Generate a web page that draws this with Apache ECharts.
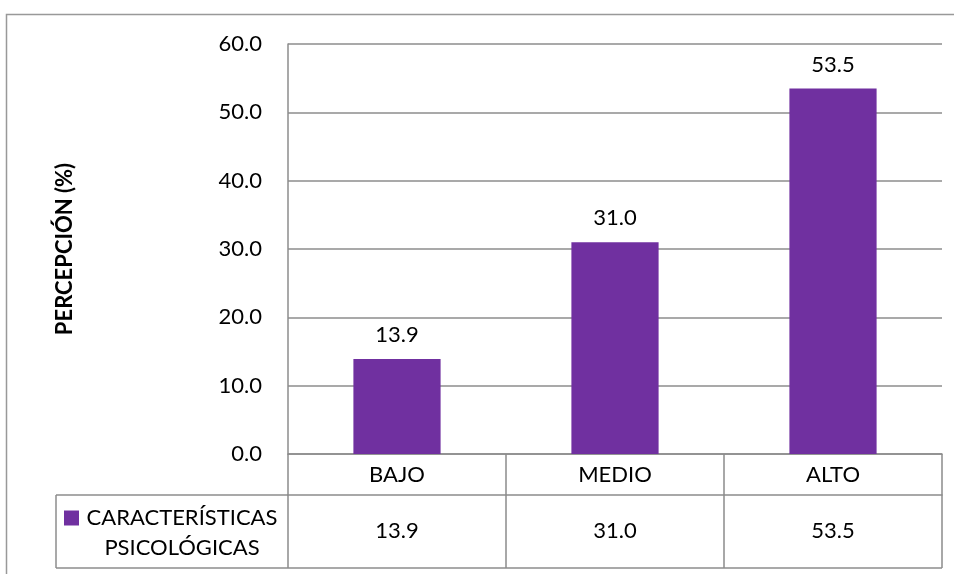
<!DOCTYPE html>
<html>
<head>
<meta charset="utf-8">
<script src="https://cdn.jsdelivr.net/npm/echarts@6/dist/echarts.min.js"></script>
<style>
  html, body { margin: 0; padding: 0; background: #fff; }
  #chart { width: 954px; height: 574px; }
</style>
</head>
<body>
<div id="chart"></div>
<script>
// Perception levels and percentages
var categories = ['BAJO', 'MEDIO', 'ALTO'];
var seriesName = 'CARACTERÍSTICAS PSICOLÓGICAS';
var nameLines = ['CARACTERÍSTICAS', 'PSICOLÓGICAS'];
var values = [13.9, 31.0, 53.5];
var yTicks = [0, 10, 20, 30, 40, 50, 60];

var FONT = 'Lato, "Open Sans", sans-serif';
var FS = 22;
var LINE = '#8c8c8c';
var BAR = '#7030A0';

var chart = echarts.init(document.getElementById('chart'));

var gridBox = { left: 288, top: 44, right: 12, bottom: 120 };
var rowH = 41;      // category row height
var tableH = 73;    // value row height
var cellW = 196;    // text width of the legend cell

chart.setOption({
  animation: false,
  textStyle: { fontFamily: FONT },
  grid: gridBox,
  legend: {
    left: 64,
    top: 507,
    padding: 0,
    itemWidth: 15,
    itemHeight: 15,
    icon: 'rect',
    itemGap: 0,
    selectedMode: false,
    formatter: function () { return '{a|' + nameLines[0] + '}'; },
    textStyle: {
      rich: {
        a: { width: cellW, align: 'center', fontSize: FS, color: '#000', fontFamily: FONT }
      }
    },
    data: [seriesName]
  },
  xAxis: [
    {
      type: 'category',
      data: categories,
      position: 'bottom',
      axisLine: { show: true, lineStyle: { color: LINE, width: 1.5 } },
      axisTick: { show: true, length: rowH, lineStyle: { color: LINE, width: 1.5 } },
      axisLabel: { fontSize: FS, color: '#000', margin: 10, fontFamily: FONT },
      splitLine: { show: false }
    },
    {
      type: 'category',
      data: values.map(function (v) { return v.toFixed(1); }),
      position: 'bottom',
      offset: rowH,
      axisLine: { show: true, lineStyle: { color: LINE, width: 1.5 } },
      axisTick: { show: true, length: tableH, lineStyle: { color: LINE, width: 1.5 } },
      axisLabel: { fontSize: FS, color: '#000', margin: 25, fontFamily: FONT },
      splitLine: { show: false }
    }
  ],
  yAxis: {
    type: 'value',
    min: yTicks[0],
    max: yTicks[yTicks.length - 1],
    interval: 10,
    name: 'PERCEPCIÓN (%)',
    nameLocation: 'middle',
    nameGap: 212,
    nameRotate: 90,
    nameTextStyle: { fontSize: FS, fontWeight: 'bold', color: '#000', fontFamily: FONT },
    axisLine: { show: true, lineStyle: { color: LINE, width: 1.5 } },
    axisTick: { show: false },
    axisLabel: {
      fontSize: FS, color: '#000', margin: 26, fontFamily: FONT,
      formatter: function (v) { return v.toFixed(1); }
    },
    splitLine: { show: true, lineStyle: { color: LINE, width: 1.5 } }
  },
  series: [{
    name: seriesName,
    type: 'bar',
    xAxisIndex: 0,
    data: values,
    barWidth: '40%',
    itemStyle: { color: BAR },
    label: {
      show: true,
      position: 'top',
      distance: 13,
      fontSize: FS,
      color: '#000',
      fontFamily: FONT,
      formatter: function (p) { return p.value.toFixed(1); }
    }
  }]
});

// Outer chart frame, the legend cell of the data table and the second name line
var axisY = 574 - gridBox.bottom;
var rowY = axisY + rowH;
var endY = rowY + tableH;
var lineStyle = { stroke: LINE, lineWidth: 1.5 };
chart.setOption({
  graphic: [
    { type: 'rect', shape: { x: 6.5, y: 14.5, width: 960, height: 580 }, style: { fill: 'none', stroke: '#999', lineWidth: 1.5 }, silent: true },
    { type: 'line', shape: { x1: 56, y1: rowY, x2: gridBox.left, y2: rowY }, style: lineStyle, silent: true },
    { type: 'line', shape: { x1: 56, y1: endY, x2: 954 - gridBox.right, y2: endY }, style: lineStyle, silent: true },
    { type: 'line', shape: { x1: 56, y1: rowY, x2: 56, y2: endY }, style: lineStyle, silent: true },
    {
      type: 'text', x: 64 + 15 + 5 + cellW / 2, y: 548, silent: true,
      style: { text: nameLines[1], fontSize: FS, fontFamily: FONT, fill: '#000', align: 'center', verticalAlign: 'middle' }
    }
  ]
});
</script>
</body>
</html>
